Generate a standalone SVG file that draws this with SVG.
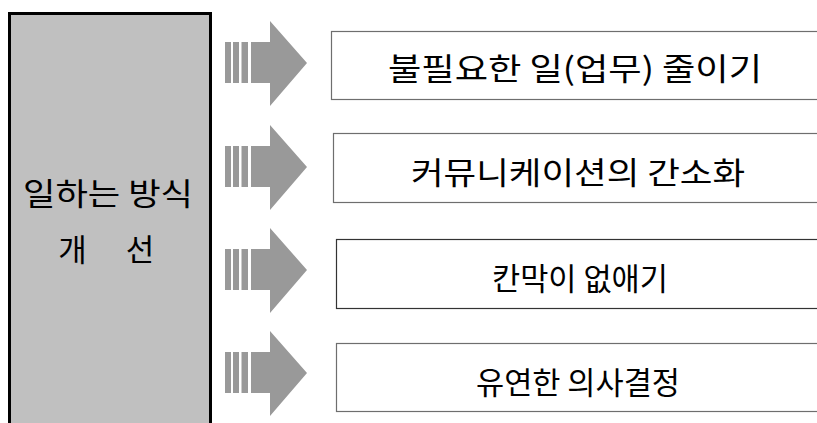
<svg xmlns="http://www.w3.org/2000/svg" xmlns:xlink="http://www.w3.org/1999/xlink" width="817" height="423" viewBox="0 0 817 423">
<style>
.lbl{font-family:"Noto Sans CJK KR","Noto Sans",sans-serif;font-size:31px;font-weight:400;fill:#000;text-anchor:middle;dominant-baseline:central}
.box{fill:#fff;stroke:#6e6e6e;stroke-width:1.2}
.arr{fill:#999}
</style>
<defs>
<g id="arrow" class="arr">
<rect x="225" y="-21" width="6" height="41"/>
<rect x="233" y="-21" width="6" height="41"/>
<rect x="241.5" y="-21" width="6.5" height="41"/>
<polygon points="251,-21 270,-21 270,-42 307,0 270,43 270,20 251,20"/>
</g>
</defs>
<rect width="817" height="423" fill="#fff"/>
<g id="main">
<rect x="9.5" y="13.5" width="201" height="420" fill="#c0c0c0" stroke="#000" stroke-width="3"/>
<text class="lbl" x="108" y="191" textLength="170" lengthAdjust="spacingAndGlyphs">일하는 방식</text>
<text class="lbl" y="247"><tspan x="76">개</tspan> <tspan x="140">선</tspan></text>
</g>
<g id="connectors">
<use xlink:href="#arrow" href="#arrow" y="63"/>
<use xlink:href="#arrow" href="#arrow" y="167"/>
<use xlink:href="#arrow" href="#arrow" y="270"/>
<use xlink:href="#arrow" href="#arrow" y="373"/>
</g>
<g id="item1">
<rect class="box" x="331.5" y="31.5" width="500" height="68"/>
<text class="lbl" x="575" y="66" textLength="374" lengthAdjust="spacingAndGlyphs">불필요한 일(업무) 줄이기</text>
</g>
<g id="item2">
<rect class="box" x="333.5" y="133.5" width="500" height="69"/>
<text class="lbl" x="578" y="170" textLength="334" lengthAdjust="spacingAndGlyphs">커뮤니케이션의 간소화</text>
</g>
<g id="item3">
<rect class="box" x="336.5" y="239.5" width="500" height="69" style="stroke:#333"/>
<text class="lbl" x="580" y="276" textLength="176" lengthAdjust="spacingAndGlyphs">칸막이 없애기</text>
</g>
<g id="item4">
<rect class="box" x="336.5" y="343.5" width="500" height="68"/>
<text class="lbl" x="578" y="380" textLength="204" lengthAdjust="spacingAndGlyphs">유연한 의사결정</text>
</g>
</svg>
